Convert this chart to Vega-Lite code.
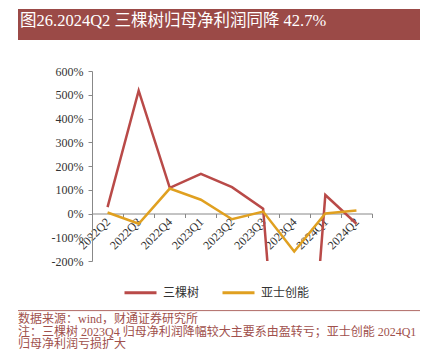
{
  "$schema": "https://vega.github.io/schema/vega-lite/v6.json",
  "padding": {"left": 13, "top": 9, "right": 0, "bottom": 0},
  "background": "white",
  "spacing": 25,
  "config": {"view": {"stroke": null}, "font": "Liberation Serif"},
  "vconcat": [
    {
      "width": 402,
      "height": 31,
      "view": {"fill": "#9B4A47", "stroke": null},
      "data": {"values": [{"label": "图26.2024Q2 三棵树归母净利润同降 42.7%"}]},
      "mark": {"type": "text", "align": "left", "baseline": "middle", "dx": 2, "dy": -4, "color": "white", "fontSize": 16.5, "font": "Liberation Serif, Noto Sans CJK SC"},
      "encoding": {
        "text": {"field": "label"},
        "x": {"datum": 0, "type": "quantitative", "scale": {"domain": [0, 1]}, "axis": null}
      }
    },
    {
      "width": 354,
      "height": 190,
      "data": {"values": [
        {"quarter": "2022Q2", "series": "三棵树", "value": 27},
        {"quarter": "2022Q3", "series": "三棵树", "value": 517},
        {"quarter": "2022Q4", "series": "三棵树", "value": 108},
        {"quarter": "2023Q1", "series": "三棵树", "value": 167},
        {"quarter": "2023Q2", "series": "三棵树", "value": 111},
        {"quarter": "2023Q3", "series": "三棵树", "value": 20},
        {"quarter": "2023Q4", "series": "三棵树", "value": -1600},
        {"quarter": "2024Q1", "series": "三棵树", "value": 78},
        {"quarter": "2024Q2", "series": "三棵树", "value": -43},
        {"quarter": "2022Q2", "series": "亚士创能", "value": 4},
        {"quarter": "2022Q3", "series": "亚士创能", "value": -43},
        {"quarter": "2022Q4", "series": "亚士创能", "value": 105},
        {"quarter": "2023Q1", "series": "亚士创能", "value": 58},
        {"quarter": "2023Q2", "series": "亚士创能", "value": -24},
        {"quarter": "2023Q3", "series": "亚士创能", "value": 8},
        {"quarter": "2023Q4", "series": "亚士创能", "value": -160},
        {"quarter": "2024Q1", "series": "亚士创能", "value": 0},
        {"quarter": "2024Q2", "series": "亚士创能", "value": 13}
      ]},
      "mark": {"type": "line", "strokeWidth": 2.5, "clip": true},
      "encoding": {
        "x": {
          "field": "quarter", "type": "ordinal", "sort": null, "bandPosition": 0.5,
          "scale": {"type": "band", "paddingInner": 0, "paddingOuter": 0, "range": [74, 354]},
          "axis": {"title": null, "offset": -47.5, "tickBand": "extent", "labelAngle": -45, "labelAlign": "right", "labelBaseline": "middle", "labelFontSize": 12, "labelColor": "#333333", "labelFont": "Liberation Serif", "domainColor": "#888888", "tickColor": "#888888", "tickSize": 4, "labelPadding": 2}
        },
        "y": {
          "field": "value", "type": "quantitative",
          "scale": {"domain": [-200, 600], "nice": false},
          "axis": {"title": null, "offset": -74, "values": [-200, -100, 0, 100, 200, 300, 400, 500, 600], "labelExpr": "datum.value + '%'", "grid": false, "domainColor": "#888888", "tickColor": "#888888", "tickSize": 4, "labelPadding": 5, "labelFontSize": 12, "labelColor": "#333333", "labelFont": "Liberation Serif"}
        },
        "color": {
          "field": "series", "type": "nominal",
          "scale": {"domain": ["三棵树", "亚士创能"], "range": ["#B94A48", "#E0A020"]},
          "legend": {"orient": "none", "legendX": 105, "legendY": 266, "direction": "horizontal", "title": null, "symbolType": "stroke", "symbolSize": 1024, "symbolStrokeWidth": 3, "labelFont": "Noto Sans CJK SC", "labelFontSize": 12, "labelColor": "#333333", "labelOffset": 5, "columnPadding": 16, "padding": 0}
        }
      }
    },
    {
      "width": 402,
      "height": 62,
      "layer": [
        {
          "data": {"values": [{"kind": "rule"}]},
          "mark": {"type": "rule", "color": "#B06A66", "strokeWidth": 1},
          "encoding": {
            "y": {"datum": 0, "type": "quantitative", "scale": {"domain": [-1.357, 3.0714], "reverse": true}, "axis": null},
            "x": {"datum": 0, "type": "quantitative", "scale": {"domain": [0, 1]}, "axis": null},
            "x2": {"datum": 1}
          }
        },
        {
          "data": {"values": [
            {"line": 0.7143, "text": "数据来源：wind，财通证券研究所"},
            {"line": 1.7143, "text": "注：三棵树 2023Q4 归母净利润降幅较大主要系由盈转亏；亚士创能 2024Q1"},
            {"line": 2.7143, "text": "归母净利润亏损扩大"}
          ]},
          "mark": {"type": "text", "align": "left", "baseline": "middle", "fontSize": 12, "color": "#A0504C", "font": "Liberation Serif, Noto Sans CJK SC"},
          "encoding": {
            "text": {"field": "text"},
            "y": {"field": "line", "type": "quantitative"},
            "x": {"datum": 0, "type": "quantitative"}
          }
        }
      ]
    }
  ]
}
